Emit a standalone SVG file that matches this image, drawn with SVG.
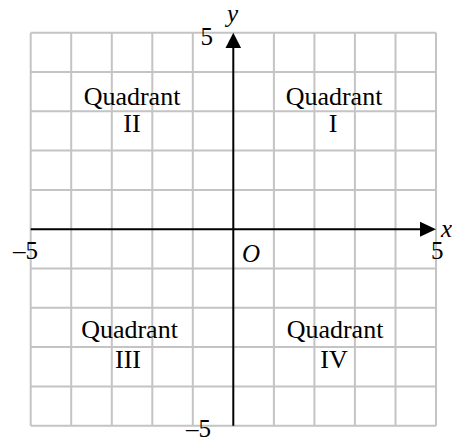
<svg xmlns="http://www.w3.org/2000/svg" width="452" height="442" viewBox="0 0 452 442">
<style>
.g{stroke:#c4c4c4;stroke-width:2;fill:none}
.ax{stroke:#000;stroke-width:2;fill:none}
text{font-family:"Liberation Serif","Times New Roman",serif;fill:#000}
.q{font-size:26px;text-anchor:middle}
.n{font-size:25px}
.i{font-style:italic;font-size:25px}
</style>
<rect width="452" height="442" fill="#fff"/>
<g id="grid" class="g">
<path d="M30.7 32.7V425.7M71.2 32.7V425.7M111.8 32.7V425.7M152.3 32.7V425.7M192.8 32.7V425.7M273.9 32.7V425.7M314.4 32.7V425.7M354.9 32.7V425.7M395.5 32.7V425.7M436 32.7V425.7"/>
<path d="M30.7 32.7H436M30.7 72H436M30.7 111.3H436M30.7 150.6H436M30.7 189.9H436M30.7 268.5H436M30.7 307.8H436M30.7 347.1H436M30.7 386.4H436M30.7 425.7H436"/>
</g>
<g id="connectors">
<path class="ax" d="M30.7 229.2H422"/>
<polygon points="436,229.2 420,221.7 420,236.7" fill="#000"/>
<path class="ax" d="M233.3 425.7V46"/>
<polygon points="233.3,32.7 225.5,48 241.1,48" fill="#000"/>
</g>
<g id="labels">
<text class="i" x="227" y="22">y</text>
<text class="n" x="213" y="45" text-anchor="end">5</text>
<text class="i" x="441" y="237">x</text>
<text class="n" x="38" y="259" text-anchor="end">–5</text>
<text class="n" x="431" y="259">5</text>
<text class="i" x="242" y="262">O</text>
<text class="n" x="211" y="437" text-anchor="end">–5</text>
</g>
<g id="q2"><text class="q" x="132" y="105">Quadrant</text><text class="q" x="132" y="132">II</text></g>
<g id="q1"><text class="q" x="334" y="105">Quadrant</text><text class="q" x="333" y="132">I</text></g>
<g id="q3"><text class="q" x="129.5" y="338">Quadrant</text><text class="q" x="128" y="368">III</text></g>
<g id="q4"><text class="q" x="335" y="338">Quadrant</text><text class="q" x="334" y="368">IV</text></g>
</svg>
